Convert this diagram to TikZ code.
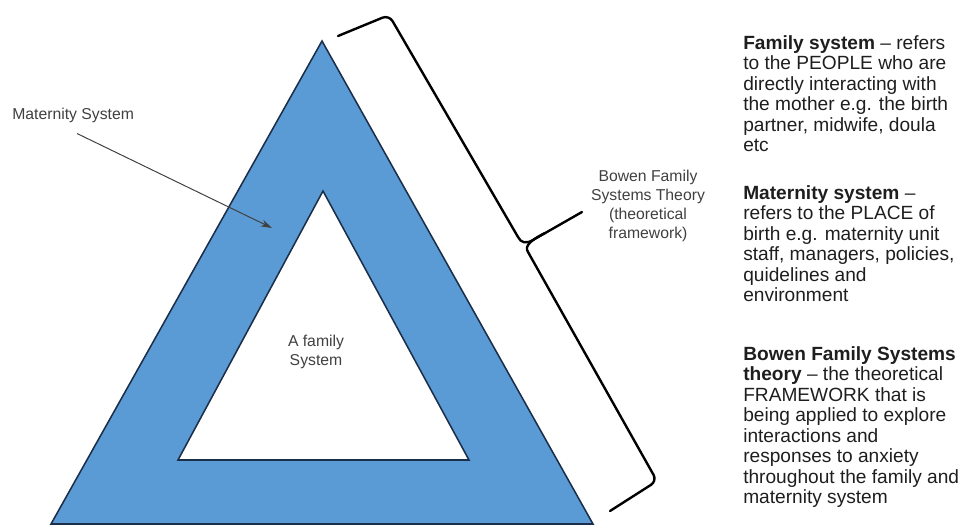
\documentclass[tikz,border=0pt]{standalone}
\usepackage{fontspec}
\setmainfont{Liberation Sans}
\usetikzlibrary{arrows.meta}
\definecolor{tblue}{HTML}{5B9BD5}
\definecolor{tline}{HTML}{1C2F4A}
\definecolor{lblgray}{HTML}{404040}
\definecolor{txtdark}{HTML}{1E1E1E}
\begin{document}
\begin{tikzpicture}[x=0.025cm,y=-0.025cm,
  tri/.style={draw=tline,line width=1.1pt,line join=miter},
  lbl/.style={text=lblgray,font=\fontsize{11.2}{13.6}\selectfont,inner sep=0pt},
  desc/.style={text=txtdark,inner sep=0pt,anchor=base west},
  pointer/.style={draw=lblgray,line width=0.7pt,-{Stealth[length=8pt,width=5pt]}},
  bracepath/.style={draw=black,line width=1.7pt,line cap=round,line join=round,rounded corners=5pt}]
\useasboundingbox (0,0) rectangle (960,526);
% triangles
\coordinate (oA) at (322,41);
\coordinate (oL) at (51,524);
\coordinate (oR) at (593,524);
\coordinate (iA) at (323,191);
\coordinate (iL) at (178,460);
\coordinate (iR) at (469,460);
\draw[tri,fill=tblue] (oA) -- (oL) -- (oR) -- cycle;
\draw[tri,fill=white] (iA) -- (iL) -- (iR) -- cycle;
% labels
\node[lbl,anchor=base west] (mat) at (12,119) {Maternity System};
\coordinate (matTip) at (272,228);
\draw[pointer] ([shift={(4,11)}]mat.south) -- (matTip);
\node[lbl,align=center] (fam) at (316,352) {A family\\System};
\node[lbl,align=center] (bowen) at (648,206) {Bowen Family\\Systems Theory\\(theoretical\\framework)};
% brace
\coordinate (b1) at (338,36);
\coordinate (b2) at (389,15);
\coordinate (b3) at (518,237);
\coordinate (btip) at (582,212);
\coordinate (b4) at (528,252);
\coordinate (b5) at (657,481);
\coordinate (b6) at (610,511);
\draw[bracepath] (b1) -- (b2) -- (b3);
\draw[bracepath,rounded corners=0pt] (b3) .. controls (521,243) and (526,244) .. (533,240) -- (btip);
\draw[bracepath,rounded corners=0pt] (545,233) .. controls (531,240) and (524,246) .. (b4);
\draw[bracepath] (b4) -- (b5) -- (b6);
% descriptions
\node[desc] (d1) at (743,49) {\parbox[t]{6cm}{\fontsize{13.6}{14.6}\selectfont\raggedright
\textbf{Family system} – refers\\
to the PEOPLE who are\\
directly interacting with\\
the mother e.g. the birth\\
partner, midwife, doula\\
etc}};
\node[desc] (d2) at (743,199) {\parbox[t]{6cm}{\fontsize{13.6}{14.6}\selectfont\raggedright
\textbf{Maternity system} –\\
refers to the PLACE of\\
birth e.g. maternity unit\\
staff, managers, policies,\\
quidelines and\\
environment}};
\node[desc] (d3) at (743,360) {\parbox[t]{6cm}{\fontsize{13.6}{14.6}\selectfont\raggedright
\textbf{Bowen Family Systems}\\
\textbf{theory} – the theoretical\\
FRAMEWORK that is\\
being applied to explore\\
interactions and\\
responses to anxiety\\
throughout the family and\\
maternity system}};
\end{tikzpicture}
\end{document}
